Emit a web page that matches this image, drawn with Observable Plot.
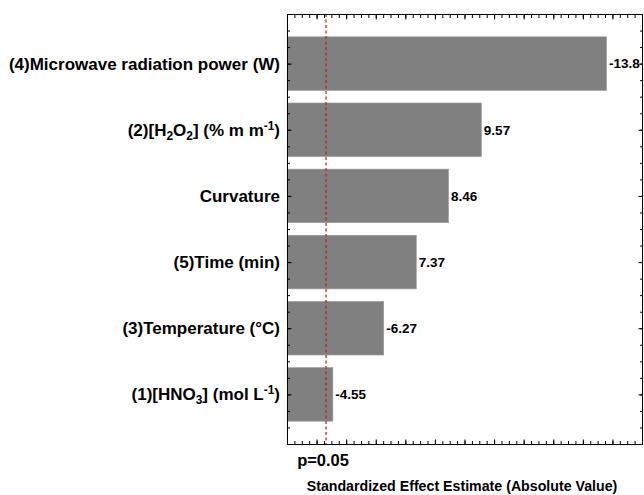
<!DOCTYPE html>
<html>
<head>
<meta charset="utf-8">
<script src="https://cdn.jsdelivr.net/npm/d3@7"></script>
<script src="https://cdn.jsdelivr.net/npm/@observablehq/plot@0.6"></script>
<style>
  html, body { margin: 0; padding: 0; background: #fff; }
  #chart { width: 644px; height: 495px; }
</style>
</head>
<body>
<div id="chart"></div>
<script>
// ---- data ----
const factorLabels = [
  "(4)Microwave radiation power (W)",
  "(2)[H_{2}O_{2}] (% m m^{-1})",
  "Curvature",
  "(5)Time (min)",
  "(3)Temperature (°C)",
  "(1)[HNO_{3}] (mol L^{-1})"
];
const effects = [-13.8, 9.57, 8.46, 7.37, -6.27, -4.55];
const valueLabels = ["-13.8", "9.57", "8.46", "7.37", "-6.27", "-4.55"];
const pCritical = 4.303;
const pLabel = "p=0.05";
const xTitle = "Standardized Effect Estimate (Absolute Value)";
const xDomain = [3, 15];

// ---- build table ----
const plain = s => s.replace(/[_^]\{([^}]*)\}/g, "$1");
const data = effects.map((v, i) => ({
  i, label: factorLabels[i], plain: plain(factorLabels[i]),
  abs: Math.abs(v), text: valueLabels[i]
}));

const font = "'Liberation Sans', Arial, Helvetica, sans-serif";
const yMinor = d3.range(-0.75, 5.7501, 0.25);
const xMinor = d3.range(3, 15.0001, 0.25);
const xMajor = d3.range(3, 15.0001, 1);

const chart = Plot.plot({
  width: 644,
  height: 495,
  marginTop: 14,
  marginBottom: 51,
  marginLeft: 287,
  marginRight: 2,
  style: { fontFamily: font, fontWeight: "bold", color: "black", background: "white" },
  x: { domain: xDomain, label: null },
  y: { domain: [-0.75, 5.75], reverse: true, label: null },
  marks: [
    Plot.rectX(data, {
      x1: 0, x2: "abs",
      y1: d => d.i - 0.405, y2: d => d.i + 0.405,
      fill: "#808080", stroke: "#9a9a9a", strokeWidth: 0.6, clip: true
    }),
    Plot.ruleX([pCritical], { stroke: "#c3161c", strokeWidth: 1.2, strokeDasharray: "3,2.5" }),
    Plot.frame({ stroke: "black", strokeWidth: 1 }),
    // x ticks (inward) top and bottom
    Plot.axisX({ anchor: "bottom", ticks: xMinor, tickSize: -3, tickFormat: () => "", label: null }),
    Plot.axisX({ anchor: "bottom", ticks: xMajor, tickSize: -4.5, tickFormat: () => "", label: null }),
    Plot.axisX({ anchor: "top", ticks: xMinor, tickSize: -3, tickFormat: () => "", label: null }),
    Plot.axisX({ anchor: "top", ticks: xMajor, tickSize: -4.5, tickFormat: () => "", label: null }),
    // y ticks (inward) left and right
    Plot.axisY({ anchor: "left", ticks: yMinor, tickSize: -3, tickFormat: () => "", label: null }),
    Plot.axisY({ anchor: "right", ticks: yMinor, tickSize: -3, tickFormat: () => "", label: null }),
    Plot.axisY({ anchor: "right", ticks: d3.range(0, 6), tickSize: -4.5, tickFormat: () => "", label: null }),
    // y labels
    Plot.axisY({
      anchor: "left", ticks: d3.range(0, 6), tickSize: -4.5, tickPadding: 12,
      tickFormat: i => data[i].plain, label: null,
      fontSize: 17, fontWeight: "bold", fill: "black"
    }),
    // value labels
    Plot.text(data, {
      x: "abs", y: "i", text: "text", textAnchor: "start", dx: 2,
      fontSize: 13.5, fontWeight: "bold", fill: "black"
    }),
    // p label
    Plot.text([pLabel], {
      x: () => pCritical, text: d => d, frameAnchor: "bottom", dy: 21, dx: -3,
      fontSize: 16.5, fontWeight: "bold", fill: "black"
    }),
    // x title
    Plot.text([xTitle], {
      text: d => d, frameAnchor: "bottom", dy: 46, dx: -3,
      fontSize: 14.2, fontWeight: "bold", fill: "black"
    })
  ]
});

// rich text (sub/superscripts) for y labels
const richMap = new Map(data.map(d => [d.plain, d.label]));
const NS = "http://www.w3.org/2000/svg";
function richify(el, markup) {
  while (el.firstChild) el.removeChild(el.firstChild);
  const re = /(_|\^)\{([^}]*)\}/g;
  let last = 0, m, shift = 0;
  const add = (txt, dy, small) => {
    const t = document.createElementNS(NS, "tspan");
    t.textContent = txt;
    if (dy) t.setAttribute("dy", dy);
    if (small) t.setAttribute("font-size", "70%");
    el.appendChild(t);
  };
  while ((m = re.exec(markup))) {
    if (m.index > last) { add(markup.slice(last, m.index), -shift, false); shift = 0; }
    const s = m[1] === "_" ? 4 : -6;
    add(m[2], s - shift, true);
    shift = s;
    last = re.lastIndex;
  }
  if (last < markup.length) add(markup.slice(last), -shift, false);
}
chart.querySelectorAll("text").forEach(t => {
  const key = t.textContent;
  if (richMap.has(key) && richMap.get(key) !== key) richify(t, richMap.get(key));
});

document.getElementById("chart").appendChild(chart);
</script>
</body>
</html>
